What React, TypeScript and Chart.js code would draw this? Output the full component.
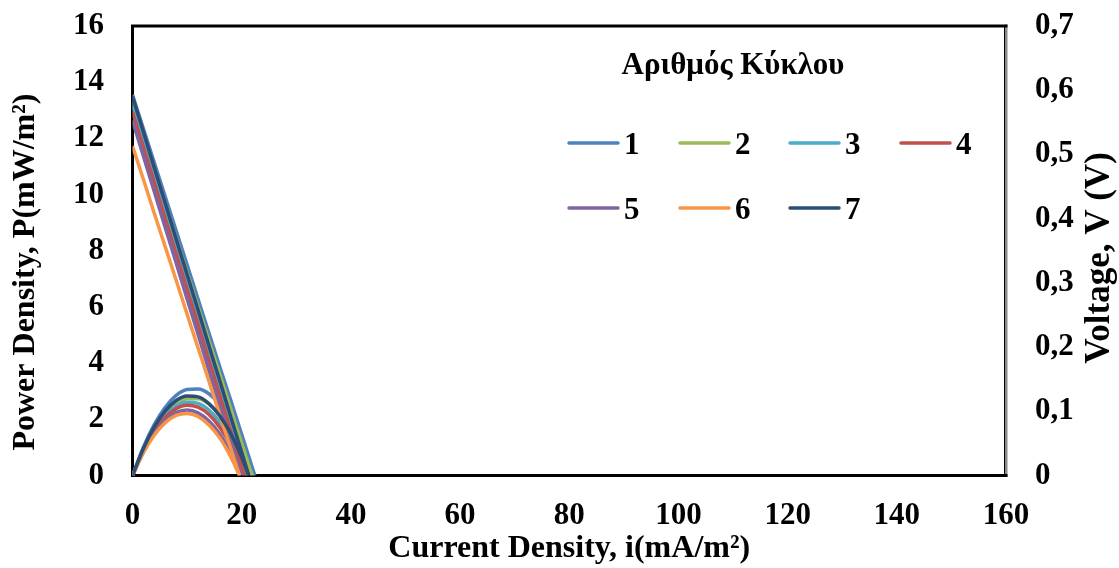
import { useEffect, useRef } from 'react';
import { Chart, registerables } from 'chart.js';

Chart.register(...registerables);

const FONT = "'Liberation Serif', 'Times New Roman', serif";

// Cycle number legend entries and their colours
const cycleLabels = ['1', '2', '3', '4', '5', '6', '7'];
const cycleColors = ['#4F81BD', '#9BBB59', '#4BACC6', '#C0504D', '#8064A2', '#F79646', '#2C4D75'];

// Current density (mA/m²), voltage (V) and power density (mW/m²) per cycle
const current1 = [0, 2, 4, 6, 8, 10, 12, 14, 16, 18, 20, 22.4];
const voltage1 = [0.593, 0.54, 0.487, 0.434, 0.381, 0.328, 0.275, 0.222, 0.169, 0.117, 0.064, 0];
const power1 = [0, 1.01, 1.82, 2.43, 2.85, 3.06, 3.08, 2.91, 2.53, 1.96, 1.19, 0];

const current2 = [0, 2, 4, 6, 8, 10, 12, 14, 16, 18, 20, 21.9];
const voltage2 = [0.582, 0.529, 0.476, 0.423, 0.369, 0.316, 0.263, 0.21, 0.157, 0.104, 0.05, 0];
const power2 = [0, 0.91, 1.64, 2.19, 2.55, 2.73, 2.73, 2.54, 2.16, 1.61, 0.87, 0];

const current3 = [0, 2, 4, 6, 8, 10, 12, 14, 16, 18, 20, 21.0];
const voltage3 = [0.575, 0.52, 0.465, 0.411, 0.356, 0.301, 0.246, 0.192, 0.137, 0.082, 0.027, 0];
const power3 = [0, 0.9, 1.62, 2.14, 2.47, 2.61, 2.57, 2.33, 1.9, 1.28, 0.48, 0];

const current4 = [0, 2, 4, 6, 8, 10, 12, 14, 16, 18, 20, 20.5];
const voltage4 = [0.566, 0.511, 0.456, 0.4, 0.345, 0.29, 0.235, 0.179, 0.124, 0.069, 0.014, 0];
const power4 = [0, 0.88, 1.57, 2.07, 2.38, 2.5, 2.43, 2.17, 1.71, 1.07, 0.24, 0];

const current5 = [0, 2, 4, 6, 8, 10, 12, 14, 16, 18, 19.9];
const voltage5 = [0.553, 0.497, 0.442, 0.386, 0.331, 0.275, 0.22, 0.164, 0.108, 0.053, 0];
const power5 = [0, 0.84, 1.5, 1.96, 2.24, 2.33, 2.23, 1.94, 1.47, 0.8, 0];

const current6 = [0, 2, 4, 6, 8, 10, 12, 14, 16, 18, 19.6];
const voltage6 = [0.513, 0.461, 0.408, 0.356, 0.304, 0.251, 0.199, 0.147, 0.094, 0.042, 0];
const power6 = [0, 0.81, 1.44, 1.88, 2.14, 2.21, 2.1, 1.8, 1.33, 0.66, 0];

const current7 = [0, 2, 4, 6, 8, 10, 12, 14, 16, 18, 20, 21.3];
const voltage7 = [0.59, 0.535, 0.479, 0.424, 0.368, 0.313, 0.258, 0.202, 0.147, 0.091, 0.036, 0];
const power7 = [0, 0.96, 1.73, 2.3, 2.67, 2.83, 2.8, 2.56, 2.12, 1.49, 0.65, 0];

const currents = [current1, current2, current3, current4, current5, current6, current7];
const voltages = [voltage1, voltage2, voltage3, voltage4, voltage5, voltage6, voltage7];
const powers = [power1, power2, power3, power4, power5, power6, power7];

const legendTitle = 'Αριθμός Κύκλου';
const xTitle = 'Current Density, i(mA/m²)';
const yTitle = 'Power Density, P(mW/m²)';
const y1Title = 'Voltage, V (V)';

const pairs = (xs: number[], ys: number[]) => xs.map((x, k) => ({ x, y: ys[k] }));

// Plot frame: black top/left/bottom, grey right edge (drawn under the curves)
const framePlugin = {
  id: 'frame',
  beforeDatasetsDraw(chart: any) {
    const { ctx } = chart;
    const { left, right, top, bottom } = chart.chartArea;
    ctx.save();
    ctx.lineCap = 'square';
    ctx.strokeStyle = '#8a8a8a';
    ctx.lineWidth = 3;
    ctx.beginPath();
    ctx.moveTo(right, top);
    ctx.lineTo(right, bottom);
    ctx.stroke();
    ctx.strokeStyle = '#000';
    ctx.lineWidth = 1;
    ctx.beginPath();
    ctx.moveTo(right - 1.5, top);
    ctx.lineTo(right - 1.5, bottom);
    ctx.stroke();
    ctx.lineWidth = 3;
    ctx.beginPath();
    ctx.moveTo(right, top);
    ctx.lineTo(left, top);
    ctx.lineTo(left, bottom);
    ctx.lineTo(right, bottom);
    ctx.stroke();
    ctx.restore();
  },
};

// Cycle legend inside the plot plus the two vertical axis titles
const overlayPlugin = {
  id: 'overlay',
  afterDraw(chart: any) {
    const { ctx } = chart;
    ctx.save();
    ctx.fillStyle = '#000';
    ctx.font = `bold 31px ${FONT}`;
    ctx.textAlign = 'center';
    ctx.textBaseline = 'alphabetic';
    ctx.fillText(legendTitle, 733, 74);

    const colX = [567, 678, 788, 899];
    const rowY = [143, 208];
    ctx.font = `bold 31px ${FONT}`;
    ctx.textAlign = 'left';
    cycleLabels.forEach((label, k) => {
      const x = colX[k % 4];
      const y = rowY[Math.floor(k / 4)];
      ctx.strokeStyle = cycleColors[k];
      ctx.lineWidth = 3.5;
      ctx.lineCap = 'round';
      ctx.beginPath();
      ctx.moveTo(x + 2, y);
      ctx.lineTo(x + 51, y);
      ctx.stroke();
      ctx.fillText(label, x + 57, y + 10.5);
    });

    ctx.textAlign = 'center';
    ctx.textBaseline = 'middle';

    ctx.save();
    ctx.translate(26, 272);
    ctx.rotate(-Math.PI / 2);
    ctx.font = `bold 32px ${FONT}`;
    ctx.fillText(yTitle, 0, 0);
    ctx.restore();

    ctx.save();
    ctx.translate(1100, 258);
    ctx.rotate(-Math.PI / 2);
    ctx.font = `bold 35px ${FONT}`;
    ctx.fillText(y1Title, 0, 0);
    ctx.restore();

    ctx.restore();
  },
};

// Let the plot area reach the top edge regardless of the tick label padding
const noEdgePadding = (s: any, width: number) => {
  s.width = width;
  s.paddingTop = 0;
  s.paddingBottom = 0;
};

export default function App() {
  const ref = useRef<HTMLCanvasElement>(null);

  useEffect(() => {
    if (!ref.current) return;
    const datasets: any[] = [];
    // Cycle 7 ends up on top: Chart.js paints the first dataset last
    for (let k = cycleLabels.length - 1; k >= 0; k--) {
      datasets.push({
        label: `V ${cycleLabels[k]}`,
        data: pairs(currents[k], voltages[k]),
        yAxisID: 'y1',
        borderColor: cycleColors[k],
        backgroundColor: cycleColors[k],
        borderWidth: 3.5,
        pointRadius: 0,
        fill: false,
        cubicInterpolationMode: 'monotone',
      });
      datasets.push({
        label: `P ${cycleLabels[k]}`,
        data: pairs(currents[k], powers[k]),
        yAxisID: 'y',
        borderColor: cycleColors[k],
        backgroundColor: cycleColors[k],
        borderWidth: 3.5,
        pointRadius: 0,
        fill: false,
        cubicInterpolationMode: 'monotone',
      });
    }

    const tickFont = { family: FONT, size: 31, weight: 'bold' as const };
    const titleFont = { family: FONT, size: 32, weight: 'bold' as const };

    const chart = new Chart(ref.current, {
      type: 'line',
      data: { datasets },
      options: {
        animation: false,
        responsive: false,
        devicePixelRatio: 1,
        events: [],
        layout: { padding: { top: 26, left: 0, right: 0, bottom: 0 } },
        plugins: { legend: { display: false }, tooltip: { enabled: false } },
        scales: {
          x: {
            type: 'linear',
            min: 0,
            max: 160,
            afterFit: (s: any) => { s.height = 92.5; },
            grid: { display: false, drawTicks: false },
            border: { display: false },
            ticks: { stepSize: 20, autoSkip: false, maxRotation: 0, padding: 22, color: '#000', font: tickFont },
            title: { display: true, text: xTitle, color: '#000', font: titleFont, padding: { top: 0, bottom: 0 } },
          },
          y: {
            type: 'linear',
            position: 'left',
            min: 0,
            max: 16,
            afterFit: (s: any) => noEdgePadding(s, 132.5),
            grid: { display: false, drawTicks: false },
            border: { display: false },
            ticks: { stepSize: 2, padding: 28.5, color: '#000', font: tickFont },
          },
          y1: {
            type: 'linear',
            position: 'right',
            min: 0,
            max: 0.7,
            afterFit: (s: any) => noEdgePadding(s, 113),
            grid: { display: false, drawTicks: false },
            border: { display: false },
            ticks: {
              stepSize: 0.1,
              padding: 29,
              color: '#000',
              font: tickFont,
              callback: (v: any) => (Number(v) === 0 ? '0' : Number(v).toFixed(1).replace('.', ',')),
            },
          },
        },
      },
      plugins: [framePlugin, overlayPlugin],
    });
    return () => chart.destroy();
  }, []);

  return (
    <div style={{ position: 'fixed', left: 0, top: 0, width: 1119, height: 568, background: '#fff' }}>
      <canvas ref={ref} width={1119} height={568} style={{ display: 'block' }} />
    </div>
  );
}
